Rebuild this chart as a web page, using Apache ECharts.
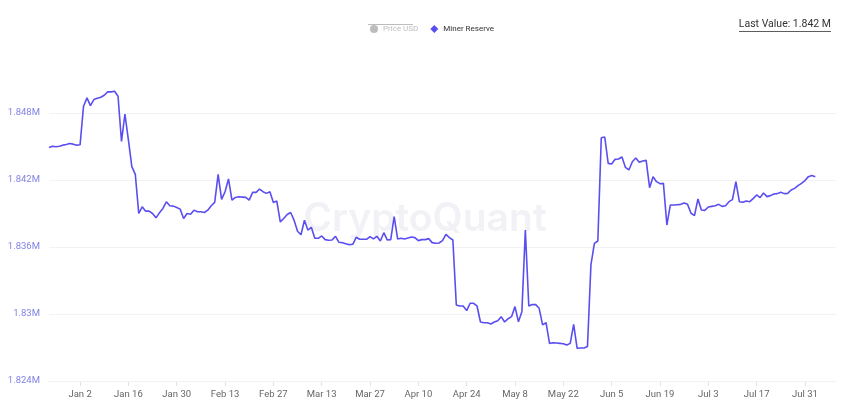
<!DOCTYPE html>
<html>
<head>
<meta charset="utf-8">
<script src="https://cdn.jsdelivr.net/npm/echarts@6/dist/echarts.min.js"></script>
<style>
html,body{margin:0;padding:0;background:#fff;}
#chart{width:850px;height:404px;}
</style>
</head>
<body>
<div id="chart"></div>
<script>
// ---- data ----
const startDate = '2022-12-24';
const axisDays = 229; // days shown on the x axis (data + right padding)
const xTickLabels = ['Jan 2','Jan 16','Jan 30','Feb 13','Feb 27','Mar 13','Mar 27','Apr 10','Apr 24','May 8','May 22','Jun 5','Jun 19','Jul 3','Jul 17','Jul 31'];
const yTicks = [1824000, 1830000, 1836000, 1842000, 1848000];
const legendNames = ['Price USD', 'Miner Reserve'];
const lastValueText = 'Last Value: 1.842 M';
const minerReserve = [
1844910,1845030,1844970,1845030,1845120,1845180,1845270,1845210,1845120,1845150,
1848600,1849350,1848660,1849200,1849320,1849410,1849590,1849890,1849890,1849950,
1849500,1845450,1847910,1845600,1843200,1842510,1839000,1839600,1839210,1839210,
1839000,1838610,1839060,1839450,1840050,1839690,1839660,1839540,1839390,1838550,
1839000,1838940,1839300,1839150,1839150,1839090,1839300,1839690,1839990,1842510,
1840260,1840950,1842090,1840200,1840440,1840500,1840470,1840440,1840200,1840890,
1840890,1841190,1840950,1840800,1840950,1839990,1840110,1838250,1838550,1838910,
1839090,1838400,1837410,1837100,1838400,1837520,1837760,1836780,1836780,1836990,
1836660,1836600,1836630,1836960,1836420,1836390,1836300,1836210,1836240,1836870,
1836690,1836690,1836690,1836930,1836720,1836960,1836540,1837280,1836630,1836660,
1838720,1836720,1836780,1836720,1836810,1836900,1836840,1836570,1836660,1836660,
1836750,1836390,1836330,1836360,1836570,1837130,1836840,1836630,1830810,1830720,
1830720,1830300,1830960,1830960,1830720,1829280,1829220,1829220,1829110,1829280,
1829400,1829760,1829280,1829580,1829760,1830660,1829310,1830210,1837520,1830720,
1830840,1830840,1830510,1829020,1829220,1827370,1827430,1827400,1827370,1827340,
1827220,1827370,1829080,1826930,1826960,1826960,1827080,1834390,1836330,1836540,
1845790,1845850,1843490,1843430,1843850,1843880,1844060,1843130,1842900,1843640,
1843970,1843580,1843700,1843760,1841310,1842300,1841850,1841670,1841700,1837970,
1839760,1839760,1839790,1839820,1839940,1839820,1839020,1838810,1840300,1839310,
1839280,1839580,1839640,1839700,1839820,1839640,1839700,1840060,1840240,1841850,
1840060,1840000,1840120,1840060,1840330,1840660,1840420,1840840,1840510,1840600,
1840750,1840780,1840900,1840780,1840800,1841100,1841250,1841500,1841700,1841950,
1842300,1842400,1842300
];

// ---- build categories (consecutive days) ----
const MONTHS = ['Jan','Feb','Mar','Apr','May','Jun','Jul','Aug','Sep','Oct','Nov','Dec'];
const categories = [];
{
  const d0 = new Date(startDate + 'T00:00:00Z');
  for (let i = 0; i < axisDays; i++) {
    const d = new Date(d0.getTime() + i * 86400000);
    categories.push(MONTHS[d.getUTCMonth()] + ' ' + d.getUTCDate());
  }
}
const isTick = (idx, val) => xTickLabels.indexOf(val !== undefined ? val : categories[idx]) >= 0;

const chart = echarts.init(document.getElementById('chart'), null, {renderer: 'canvas'});
const FONT = 'Roboto, "Noto Sans", sans-serif';

const option = {
  animation: false,
  backgroundColor: '#ffffff',
  grid: {left: 49, right: 14, top: 68.33, bottom: 23, containLabel: false},
  legend: {
    data: [{name: legendNames[0], icon: 'circle'}, {name: legendNames[1], icon: 'diamond'}],
    selected: {[legendNames[0]]: false, [legendNames[1]]: true},
    left: 365, top: 20,
    itemWidth: 8, itemHeight: 8, itemGap: 12,
    inactiveColor: '#bdbdbd',
    textStyle: {fontSize: 8, color: '#333', fontFamily: FONT}
  },
  xAxis: {
    type: 'category',
    data: categories,
    boundaryGap: false,
    axisLine: {show: true, lineStyle: {color: '#ececec', width: 1}},
    axisTick: {show: true, interval: (i, v) => isTick(i, v), length: 5, lineStyle: {color: '#e2e2e2'}},
    axisLabel: {interval: (i, v) => isTick(i, v), color: '#666', fontSize: 9.5, fontFamily: FONT, margin: 9},
    splitLine: {show: false}
  },
  yAxis: {
    type: 'value',
    min: 1824000, max: 1852000, interval: 6000,
    axisLine: {show: false}, axisTick: {show: false},
    splitLine: {show: false},
    axisLabel: {
      showMaxLabel: false,
      color: '#8282e6', fontSize: 9.5, fontFamily: FONT, margin: 9,
      formatter: v => (yTicks.indexOf(v) >= 0 ? parseFloat((v / 1e6).toFixed(3)) + 'M' : '')
    }
  },
  graphic: [
    {type: 'text', left: 'center', top: 200, z: -10, silent: true,
     style: {text: 'CryptoQuant', font: '600 39px Inter, Roboto, sans-serif', fill: 'rgba(170,170,200,0.17)'}},
    {type: 'line', silent: true, shape: {x1: 368, y1: 24.5, x2: 413, y2: 24.5}, style: {stroke: '#bdbdbd', lineWidth: 1}},
    {type: 'text', right: 19, top: 19, silent: true,
     style: {text: lastValueText, font: '10.5px ' + FONT, fill: '#333'}},
    {type: 'line', silent: true, shape: {x1: 739, y1: 31.5, x2: 831, y2: 31.5}, style: {stroke: '#333', lineWidth: 0.8}}
  ],
  series: [
    {name: legendNames[0], type: 'line', data: [], itemStyle: {color: '#999'}},
    {
      name: legendNames[1], type: 'line', data: minerReserve,
      showSymbol: false, symbol: 'diamond',
      itemStyle: {color: '#5b4ef0'},
      lineStyle: {color: '#5b4ef0', width: 1.6},
      markLine: {
        silent: true, symbol: 'none', label: {show: false},
        lineStyle: {color: '#f2f2f2', type: 'solid', width: 1},
        data: yTicks.map(v => ({yAxis: v}))
      },
      z: 5
    }
  ]
};
chart.setOption(option);
</script>
</body>
</html>
